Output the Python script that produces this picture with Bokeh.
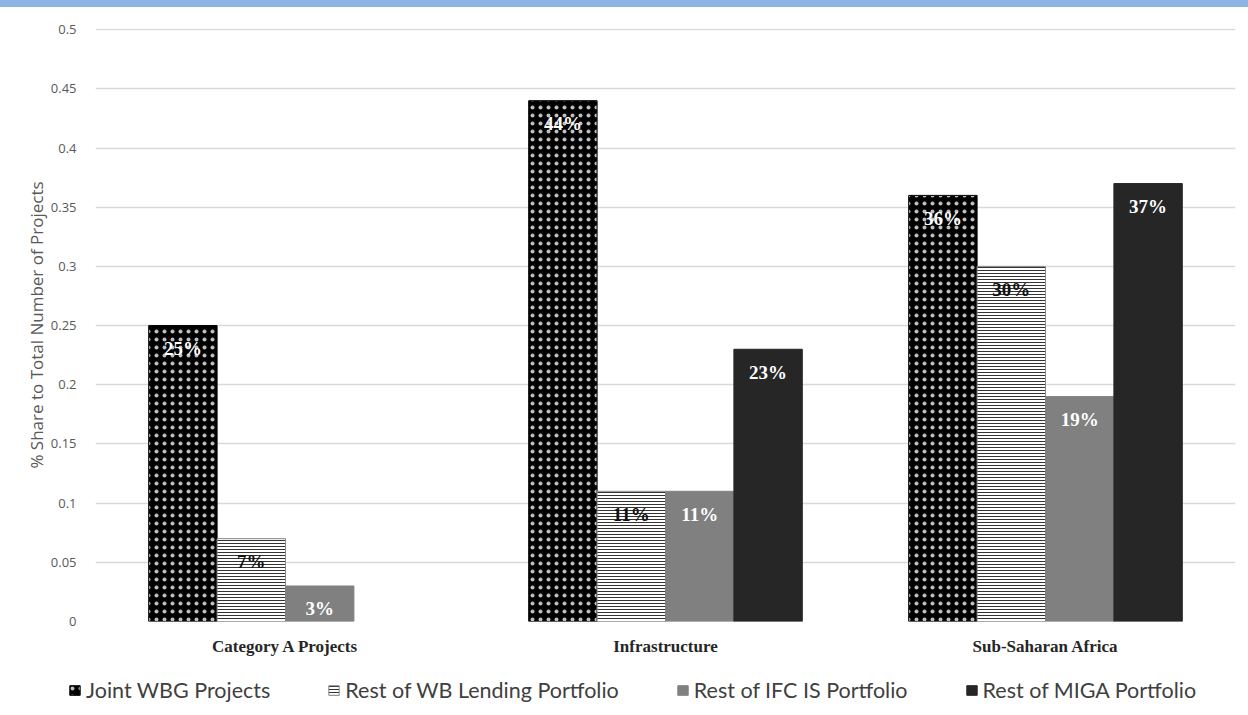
from bokeh.plotting import figure
from bokeh.models import (FactorRange, FixedTicker, Legend, LegendItem, ColumnDataSource, Div)
from bokeh.transform import dodge
from bokeh.layouts import column, row
from bokeh.core.properties import value
from bokeh.embed import file_html
from bokeh.resources import INLINE

categories = ["Category A Projects", "Infrastructure", "Sub-Saharan Africa"]
series_names = ["Joint WBG Projects", "Rest of WB Lending Portfolio",
                "Rest of IFC IS Portfolio", "Rest of MIGA Portfolio"]
joint_wbg = [0.25, 0.44, 0.36]
rest_wb = [0.07, 0.11, 0.30]
rest_ifc = [0.03, 0.11, 0.19]
rest_miga = [float("nan"), 0.23, 0.37]
y_ticks = [0, 0.05, 0.1, 0.15, 0.2, 0.25, 0.3, 0.35, 0.4, 0.45, 0.5]
y_tick_labels = ["0", "0.05", "0.1", "0.15", "0.2", "0.25", "0.3", "0.35", "0.4", "0.45", "0.5"]

series_values = [joint_wbg, rest_wb, rest_ifc, rest_miga]
offsets = [-0.27, -0.09, 0.09, 0.27]
label_colors = ["white", "#111111", "white", "white"]

styles = [
    dict(fill_color="black", line_color="black", hatch_pattern="dot", hatch_color="white",
         hatch_scale=8, hatch_weight=0.5, hatch_alpha=0.75),
    dict(fill_color="white", line_color="#888888", hatch_pattern="horizontal_line",
         hatch_color="#333333", hatch_scale=3, hatch_weight=1),
    dict(fill_color="#808080", line_color="#808080"),
    dict(fill_color="#262626", line_color="#262626"),
]

p = figure(x_range=FactorRange(*categories, range_padding=0), y_range=(0, 0.501),
           width=1248, height=658, output_backend="svg", toolbar_location=None,
           min_border_left=95, min_border_right=13, min_border_top=21, min_border_bottom=44)
p.outline_line_color = None
p.background_fill_color = "white"
p.border_fill_color = "white"

# legend strip figure (bars there lie outside its visible y range)
lf = figure(width=1248, height=50, x_range=FactorRange(*categories, range_padding=0), y_range=(1, 2),
            output_backend="svg", toolbar_location=None,
            x_axis_location=None, y_axis_location=None,
            min_border_left=0, min_border_right=0, min_border_top=0, min_border_bottom=0)
lf.grid.visible = False
lf.outline_line_color = None
lf.border_fill_color = "white"
lf.background_fill_color = "white"

legend_renderers = []
for vals, off, st, lc in zip(series_values, offsets, styles, label_colors):
    labels = ["" if v != v else f"{round(v*100)}%" for v in vals]
    src = ColumnDataSource(dict(cat=categories, top=vals, lab=labels))
    p.vbar(x=dodge("cat", off, range=p.x_range), top="top", width=0.18, source=src, **st)
    p.text(x=dodge("cat", off, range=p.x_range), y="top", text="lab", source=src,
           text_align="center", text_baseline="middle", y_offset=23,
           text_font=value("Liberation Serif"), text_font_style="bold",
           text_font_size="19px", text_color=lc)
    legend_renderers.append(lf.vbar(x=dodge("cat", off, range=lf.x_range), top="top",
                                    width=0.18, source=src, **st))

p.yaxis.ticker = FixedTicker(ticks=y_ticks)
p.yaxis.major_label_overrides = {t: l for t, l in zip(y_ticks, y_tick_labels)}
p.yaxis.axis_line_color = None
p.yaxis.major_tick_line_color = None
p.yaxis.minor_tick_line_color = None
p.yaxis.major_label_text_font = "Open Sans"
p.yaxis.major_label_text_font_size = "13px"
p.yaxis.major_label_text_color = "#595959"
p.yaxis.major_label_standoff = 13
p.yaxis.axis_label = "% Share to Total Number of Projects"
p.yaxis.axis_label_text_font = "Open Sans"
p.yaxis.axis_label_text_font_style = "normal"
p.yaxis.axis_label_text_font_size = "17px"
p.yaxis.axis_label_text_color = "#595959"
p.yaxis.axis_label_standoff = 0

p.xaxis.axis_line_color = None
p.xaxis.major_tick_line_color = None
p.xaxis.major_label_text_font = "Liberation Serif"
p.xaxis.major_label_text_font_style = "bold"
p.xaxis.major_label_text_font_size = "17px"
p.xaxis.major_label_text_color = "#262626"
p.xaxis.major_label_standoff = 9

p.xgrid.grid_line_color = None
p.ygrid.grid_line_color = "#d9d9d9"
p.ygrid.grid_line_width = 1.5

lg = Legend(items=[LegendItem(label=n, renderers=[r]) for n, r in zip(series_names, legend_renderers)],
            location=(68, 12), orientation="horizontal", padding=0, margin=0, spacing=57,
            glyph_width=13, glyph_height=12, label_standoff=5,
            label_text_font="Lato", label_text_font_size="21.5px", label_text_color="#404040",
            border_line_alpha=0, background_fill_alpha=0)
lf.add_layout(lg, "center")

band = Div(text="", width=1248, height=7, styles={"background-color": "#8eb4e3"}, margin=0)
p.margin = 0
lf.margin = 0
layout = column(band, p, row(lf, spacing=0), spacing=0)
open("out.html", "w").write(file_html(layout, INLINE))
